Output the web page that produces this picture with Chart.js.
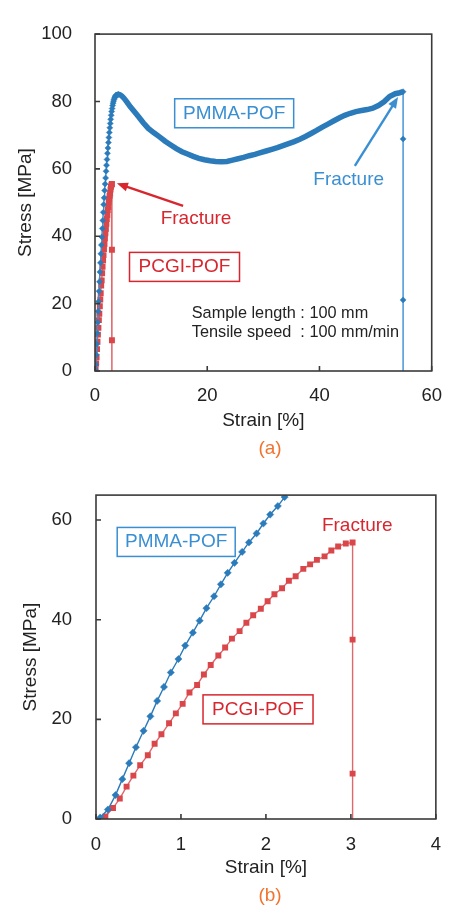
<!DOCTYPE html>
<html lang="en">
<head>
<meta charset="UTF-8">
<title>Stress-strain curves</title>
<script src="https://cdn.jsdelivr.net/npm/chart.js@4.4.1/dist/chart.umd.min.js"></script>
<style>
    body {
        margin: 0;
        background: #fff;
        width: 456px;
        height: 907px;
        position: relative;
        overflow: hidden;
        font-family: "Liberation Sans", Arial, sans-serif;
    }

    .wrap {
        position: absolute;
        left: 0;
        width: 456px;
    }

    .cap {
        position: absolute;
        left: 230px;
        width: 80px;
        text-align: center;
        color: #f07430;
        font-size: 19px;
        line-height: 22px;
    }
</style>
</head>
<body>
<div class="wrap" style="top:0;height:460px"><canvas id="chartA" width="456" height="460"></canvas></div>
<div class="cap" style="top:437px">(a)</div>
<div class="wrap" style="top:460px;height:447px"><canvas id="chartB" width="456" height="447"></canvas></div>
<div class="cap" style="top:884px">(b)</div>
<script>
// PMMA-POF (strain %, stress MPa)
const pmmaStrain = [0.05, 0.14, 0.23, 0.31, 0.39, 0.47, 0.56, 0.64, 0.72, 0.80, 0.88, 0.97, 1.05, 1.14, 1.22,
    1.30, 1.39, 1.47, 1.55, 1.63, 1.72, 1.80, 1.89, 1.97, 2.05, 2.14, 2.22, 2.30, 2.39, 2.47, 2.55, 2.64, 2.72,
    2.80, 2.89, 2.97, 3.05, 3.14, 3.22, 3.30, 3.39, 3.47, 3.55, 3.64, 3.72, 3.80, 3.97, 4.2, 4.45, 4.8, 5.2,
    5.7, 6.3, 7.0, 7.8, 8.6, 9.5, 10.5, 11.5, 12.5, 13.5, 14.5, 15.5, 16.5, 17.5, 18.5, 19.5, 20.5, 21.5, 22.5,
    23.5, 24.5, 25.5, 26.5, 27.5, 28.5, 29.5, 30.5, 31.5, 32.5, 33.5, 34.5, 35.5, 36.5, 37.5, 38.5, 39.5, 40.5,
    41.5, 42.5, 43.5, 44.5, 45.5, 46.5, 47.5, 48.5, 49.5, 50.5, 51.5, 52.5, 53.5, 54.3, 54.9, 54.9, 54.9, 54.9];
const pmmaStress = [0.3, 1.9, 4.8, 8.0, 11.2, 14.4, 17.7, 20.6, 23.7, 26.5, 29.4, 32.1, 34.8, 37.4, 39.8,
    42.3, 44.7, 47.1, 49.4, 51.4, 53.6, 55.5, 57.3, 59.3, 61.1, 62.8, 64.6, 66.2, 67.8, 69.3, 70.8, 72.2, 73.5,
    74.7, 75.9, 77.0, 77.9, 78.8, 79.5, 80.1, 80.6, 81.0, 81.3, 81.6, 81.8, 81.9, 82.0, 82.1, 82.0, 81.6, 80.9,
    79.8, 78.4, 77.0, 75.4, 73.7, 72.0, 70.7, 69.5, 68.2, 67.1, 66.0, 65.1, 64.4, 63.7, 63.1, 62.7, 62.4, 62.2, 62.1,
    62.2, 62.6, 63.0, 63.4, 63.9, 64.3, 64.8, 65.3, 65.8, 66.3, 66.9, 67.5, 68.1, 68.8, 69.6, 70.5, 71.4, 72.4,
    73.3, 74.2, 75.1, 75.9, 76.5, 77.0, 77.3, 77.6, 78.0, 78.8, 79.9, 81.5, 82.3, 82.6, 82.9, 68.9, 21.1, -26.7];

// PCGI-POF
const pcgiStrain = [0.11, 0.20, 0.28, 0.36, 0.44, 0.52, 0.61, 0.69, 0.77, 0.86, 0.94, 1.02, 1.10, 1.19, 1.27,
    1.35, 1.44, 1.52, 1.60, 1.69, 1.77, 1.85, 1.94, 2.02, 2.10, 2.19, 2.27, 2.35, 2.44, 2.52, 2.60, 2.69, 2.77,
    2.85, 2.94, 3.02, 3.02, 3.02, 3.02];
const pcgiStress = [0.5, 2.2, 4.1, 6.5, 8.7, 10.8, 12.8, 15.1, 17.0, 19.2, 21.2, 23.1, 25.4, 26.9, 29.0,
    30.9, 32.8, 34.4, 36.2, 37.7, 39.4, 40.9, 42.2, 43.7, 45.1, 46.3, 47.8, 48.7, 50.2, 51.1, 52.0, 52.7, 53.9,
    54.7, 55.3, 55.5, 36.0, 9.1, -18.0];

const xTicksA = [0, 20, 40, 60];
const yTicksA = [0, 20, 40, 60, 80, 100];
const xTicksB = [0, 1, 2, 3, 4];
const yTicksB = [0, 20, 40, 60];

const FONT = '"Liberation Sans", Arial, sans-serif';
const BLUE = '#2b7bba';
const BLUE_TXT = '#3a8fd3';
const RED = '#d9474b';
const RED_LINE = '#e0686c';
const RED_TXT = '#d8262e';

function pts(xs, ys) {
    return xs.map(function (x, i) { return { x: x, y: ys[i] }; });
}

// frame, inward ticks and the text notes
const framePlugin = {
    id: 'frame',
    afterDatasetsDraw(chart, args, opts) {
        const ctx = chart.ctx;
        const a = chart.chartArea;
        const xs = chart.scales.x, ys = chart.scales.y;
        ctx.save();
        ctx.strokeStyle = '#3a3a3a';
        ctx.lineWidth = 1.6;
        ctx.strokeRect(a.left, a.top, a.right - a.left, a.bottom - a.top);
        ctx.beginPath();
        xs.ticks.forEach(function (t) {
            const p = xs.getPixelForValue(t.value);
            ctx.moveTo(p, a.bottom);
            ctx.lineTo(p, a.bottom - 5);
        });
        ys.ticks.forEach(function (t) {
            const p = ys.getPixelForValue(t.value);
            ctx.moveTo(a.left, p);
            ctx.lineTo(a.left + 5, p);
        });
        ctx.stroke();

        (opts.items || []).forEach(function (it) {
            ctx.font = (it.size || 19) + 'px ' + FONT;
            ctx.fillStyle = it.color;
            ctx.strokeStyle = it.color;
            if (it.kind === 'arrow') {
                const x1 = xs.getPixelForValue(it.x1), y1 = ys.getPixelForValue(it.y1);
                const x2 = xs.getPixelForValue(it.x2), y2 = ys.getPixelForValue(it.y2);
                const ang = Math.atan2(y2 - y1, x2 - x1);
                ctx.lineWidth = 2.4;
                ctx.beginPath();
                ctx.moveTo(x1, y1);
                ctx.lineTo(x2 - 7 * Math.cos(ang), y2 - 7 * Math.sin(ang));
                ctx.stroke();
                ctx.beginPath();
                ctx.moveTo(x2, y2);
                ctx.lineTo(x2 - 11 * Math.cos(ang) + 4.5 * Math.sin(ang), y2 - 11 * Math.sin(ang) - 4.5 * Math.cos(ang));
                ctx.lineTo(x2 - 11 * Math.cos(ang) - 4.5 * Math.sin(ang), y2 - 11 * Math.sin(ang) + 4.5 * Math.cos(ang));
                ctx.closePath();
                ctx.fill();
                return;
            }
            const px = xs.getPixelForValue(it.x), py = ys.getPixelForValue(it.y);
            ctx.textBaseline = 'middle';
            ctx.textAlign = it.align || 'center';
            ctx.fillText(it.text, px, py);
            if (it.kind === 'box') {
                ctx.lineWidth = 1.5;
                ctx.strokeStyle = it.border;
                ctx.strokeRect(px - it.w / 2, py - it.h / 2, it.w, it.h);
            }
        });
        ctx.restore();
    }
};

function makeChart(id, cfg) {
    function isBand(c) {
        return cfg.thick && c.p0.parsed.x >= 3.8 && c.p1.parsed.x !== c.p0.parsed.x;
    }
    return new Chart(document.getElementById(id), {
        type: 'scatter',
        data: {
            datasets: [{
                label: 'PMMA-POF',
                data: pts(pmmaStrain, pmmaStress),
                showLine: true,
                borderColor: cfg.pmmaLine,
                borderWidth: 1.4,
                segment: {
                    borderWidth: function (c) { return isBand(c) ? 5.5 : 1.4; },
                    borderColor: function (c) { return isBand(c) ? BLUE : cfg.pmmaLine; }
                },
                pointStyle: 'rectRot',
                pointRadius: function (c) {
                    const v = c.raw;
                    if (cfg.thick && v && v.x > 4.3 && v.x < 54.5) return 0;
                    return cfg.pmmaR;
                },
                pointBackgroundColor: BLUE,
                pointBorderColor: BLUE,
                pointBorderWidth: 0.5
            }, {
                label: 'PCGI-POF',
                data: pts(pcgiStrain, pcgiStress),
                showLine: true,
                borderColor: RED_LINE,
                borderWidth: 1.4,
                pointStyle: 'rect',
                pointRadius: cfg.pcgiR,
                pointBackgroundColor: RED,
                pointBorderColor: RED,
                pointBorderWidth: 0
            }]
        },
        options: {
            responsive: false,
            animation: false,
            layout: { padding: cfg.pad },
            plugins: {
                legend: { display: false },
                tooltip: { enabled: false },
                frame: { items: cfg.items }
            },
            scales: {
                x: {
                    type: 'linear',
                    min: cfg.xTicks[0],
                    max: cfg.xTicks[cfg.xTicks.length - 1],
                    grid: { display: false, drawTicks: false },
                    border: { display: false },
                    afterBuildTicks: function (s) { s.ticks = cfg.xTicks.map(function (v) { return { value: v }; }); },
                    afterFit: function (s) { s.height = cfg.xH; },
                    ticks: { padding: cfg.xPad, color: '#222', font: { family: FONT, size: 18.5 } },
                    title: {
                        display: true, text: 'Strain [%]', color: '#222',
                        font: { family: FONT, size: 19 }, padding: { top: 0, bottom: cfg.xTitlePad }
                    }
                },
                y: {
                    type: 'linear',
                    min: 0,
                    max: cfg.yMax,
                    grid: { display: false, drawTicks: false },
                    border: { display: false },
                    afterBuildTicks: function (s) { s.ticks = cfg.yTicks.map(function (v) { return { value: v }; }); },
                    afterFit: function (s) { s.width = cfg.yW; },
                    ticks: { padding: cfg.yPad, color: '#222', font: { family: FONT, size: 18.5 } },
                    title: {
                        display: true, text: 'Stress [MPa]', color: '#222',
                        font: { family: FONT, size: 19 }, padding: { top: cfg.yTitlePad, bottom: 0 }
                    }
                }
            }
        },
        plugins: [framePlugin]
    });
}

makeChart('chartA', {
    xTicks: xTicksA, yTicks: yTicksA, yMax: 100,
    pad: { left: 0, right: 13, top: 22, bottom: 25 },
    xH: 64, yW: 95, xPad: 14, yPad: 23, xTitlePad: 3, yTitlePad: 14,
    thick: true, pmmaLine: BLUE_TXT, pmmaR: 3, pcgiR: 4.2,
    items: [
        { kind: 'box', x: 24.8, y: 76.5, text: 'PMMA-POF', color: BLUE_TXT, border: BLUE_TXT, w: 119, h: 29 },
        { kind: 'text', x: 45.2, y: 56.7, text: 'Fracture', color: BLUE_TXT },
        { kind: 'arrow', x1: 46.3, y1: 60.9, x2: 54.0, y2: 81.3, color: BLUE_TXT },
        { kind: 'text', x: 18.0, y: 45.2, text: 'Fracture', color: RED_TXT },
        { kind: 'arrow', x1: 15.7, y1: 49.0, x2: 3.9, y2: 55.7, color: RED_TXT },
        { kind: 'box', x: 15.95, y: 30.9, text: 'PCGI-POF', color: RED_TXT, border: RED_TXT, w: 110, h: 29 },
        { kind: 'text', x: 17.24, y: 17.2, text: 'Sample length : 100 mm', color: '#222', align: 'left', size: 16.3 },
        { kind: 'text', x: 17.24, y: 11.5, text: 'Tensile speed  : 100 mm/min', color: '#222', align: 'left', size: 16.3 }
    ]
});

makeChart('chartB', {
    xTicks: xTicksB, yTicks: yTicksB, yMax: 65,
    pad: { left: 0, right: 19, top: 33, bottom: 28 },
    xH: 60, yW: 96, xPad: 15, yPad: 24, xTitlePad: 0, yTitlePad: 19,
    thick: false, pmmaLine: BLUE, pmmaR: 3.6, pcgiR: 4.2,
    items: [
        { kind: 'box', x: 0.944, y: 55.6, text: 'PMMA-POF', color: BLUE_TXT, border: BLUE_TXT, w: 118, h: 29 },
        { kind: 'text', x: 3.075, y: 58.8, text: 'Fracture', color: RED_TXT },
        { kind: 'box', x: 1.907, y: 22.0, text: 'PCGI-POF', color: RED_TXT, border: RED_TXT, w: 110, h: 29 }
    ]
});
</script>
</body>
</html>
